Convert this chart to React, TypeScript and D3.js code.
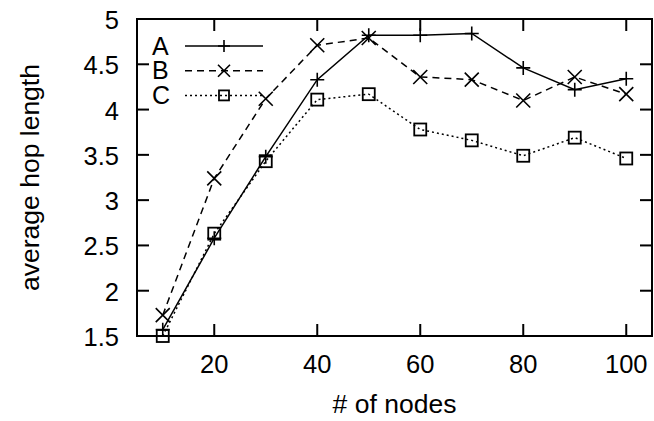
import { useRef, useEffect } from 'react';
import * as d3 from 'd3';

const nodes = [10, 20, 30, 40, 50, 60, 70, 80, 90, 100];
const seriesA = [1.57, 2.58, 3.48, 4.33, 4.82, 4.82, 4.84, 4.46, 4.22, 4.34];
const seriesB = [1.73, 3.24, 4.12, 4.71, 4.79, 4.36, 4.33, 4.10, 4.36, 4.17];
const seriesC = [1.50, 2.63, 3.43, 4.11, 4.17, 3.78, 3.66, 3.49, 3.69, 3.46];
const xTicks = [20, 40, 60, 80, 100];
const yTicks = [1.5, 2, 2.5, 3, 3.5, 4, 4.5, 5];
const names = ['A', 'B', 'C'];

export default function App() {
  const ref = useRef<SVGSVGElement>(null);

  useEffect(() => {
    const w = 654, h = 421;
    const m = { l: 137, r: 2, t: 19, b: 85 };
    const font = '"Liberation Sans", Arial, sans-serif';

    const svg = d3.select(ref.current)
      .attr('width', w).attr('height', h)
      .style('font-family', font);
    svg.selectAll('*').remove();

    const x = d3.scaleLinear().domain([5, 105]).range([m.l, w - m.r]);
    const y = d3.scaleLinear().domain([1.5, 5]).range([h - m.b, m.t]);
    const x0 = x.range()[0], x1 = x.range()[1];
    const y0 = y.range()[0], y1 = y.range()[1];
    const tl = 12;

    // frame
    svg.append('rect')
      .attr('x', x0).attr('y', y1)
      .attr('width', x1 - x0).attr('height', y0 - y1)
      .attr('fill', 'none').attr('stroke', '#000').attr('stroke-width', 2);

    // inward ticks, mirrored
    const tg = svg.append('g').attr('stroke', '#000').attr('stroke-width', 2);
    xTicks.forEach(t => {
      tg.append('line').attr('x1', x(t)).attr('x2', x(t)).attr('y1', y0).attr('y2', y0 - tl);
      tg.append('line').attr('x1', x(t)).attr('x2', x(t)).attr('y1', y1).attr('y2', y1 + tl);
    });
    yTicks.forEach(t => {
      tg.append('line').attr('x1', x0).attr('x2', x0 + tl).attr('y1', y(t)).attr('y2', y(t));
      tg.append('line').attr('x1', x1).attr('x2', x1 - tl).attr('y1', y(t)).attr('y2', y(t));
    });

    svg.append('g').selectAll('text').data(xTicks).join('text')
      .attr('x', d => x(d)).attr('y', y0 + 37)
      .attr('text-anchor', 'middle')
      .style('font-size', '25.5px')
      .text(d => d);

    svg.append('g').selectAll('text').data(yTicks).join('text')
      .attr('x', x0 - 18).attr('y', d => y(d) + 10)
      .attr('text-anchor', 'end')
      .style('font-size', '25.5px')
      .text(d => d);

    // axis titles
    svg.append('text')
      .attr('x', (x0 + x1) / 2).attr('y', 413)
      .attr('text-anchor', 'middle')
      .style('font-size', '26.5px')
      .text('# of nodes');

    svg.append('text')
      .attr('transform', `translate(39,${(y0 + y1) / 2}) rotate(-90)`)
      .attr('text-anchor', 'middle')
      .style('font-size', '26.5px')
      .text('average hop length');

    const styles = [
      { dash: null, marker: 'plus' },
      { dash: '7,5', marker: 'cross' },
      { dash: '2,3', marker: 'square' },
    ];

    const drawMarker = (g: any, kind: string, cx: number, cy: number, s = 7) => {
      if (kind === 'plus') {
        g.append('path').attr('d', `M${cx - s},${cy}H${cx + s}M${cx},${cy - s}V${cy + s}`)
          .attr('stroke', '#000').attr('stroke-width', 1.6).attr('fill', 'none');
      } else if (kind === 'cross') {
        g.append('path').attr('d', `M${cx - s},${cy - s}L${cx + s},${cy + s}M${cx - s},${cy + s}L${cx + s},${cy - s}`)
          .attr('stroke', '#000').attr('stroke-width', 1.6).attr('fill', 'none');
      } else {
        const q = s - 1;
        g.append('rect').attr('x', cx - q).attr('y', cy - q).attr('width', 2 * q).attr('height', 2 * q)
          .attr('stroke', '#000').attr('stroke-width', 1.8).attr('fill', 'none');
      }
    };

    const line = d3.line<number>().x((_, i) => x(nodes[i])).y(d => y(d));

    [seriesA, seriesB, seriesC].forEach((s, k) => {
      const g = svg.append('g');
      g.append('path').datum(s)
        .attr('d', line)
        .attr('fill', 'none').attr('stroke', '#000').attr('stroke-width', 1.5)
        .attr('stroke-dasharray', styles[k].dash);
      s.forEach((v, i) => drawMarker(g, styles[k].marker, x(nodes[i]), y(v)));
    });

    // legend
    const lg = svg.append('g');
    names.forEach((n, k) => {
      const ly = 46 + k * 24.7;
      lg.append('text').attr('x', 152).attr('y', ly + 8.5)
        .style('font-size', '25px').text(n);
      lg.append('line').attr('x1', 185).attr('x2', 263).attr('y1', ly).attr('y2', ly)
        .attr('stroke', '#000').attr('stroke-width', 1.5)
        .attr('stroke-dasharray', styles[k].dash);
      drawMarker(lg, styles[k].marker, 224, ly, 6);
    });
  }, []);

  return <svg ref={ref} style={{ position: 'absolute', left: 0, top: 0 }}></svg>;
}
